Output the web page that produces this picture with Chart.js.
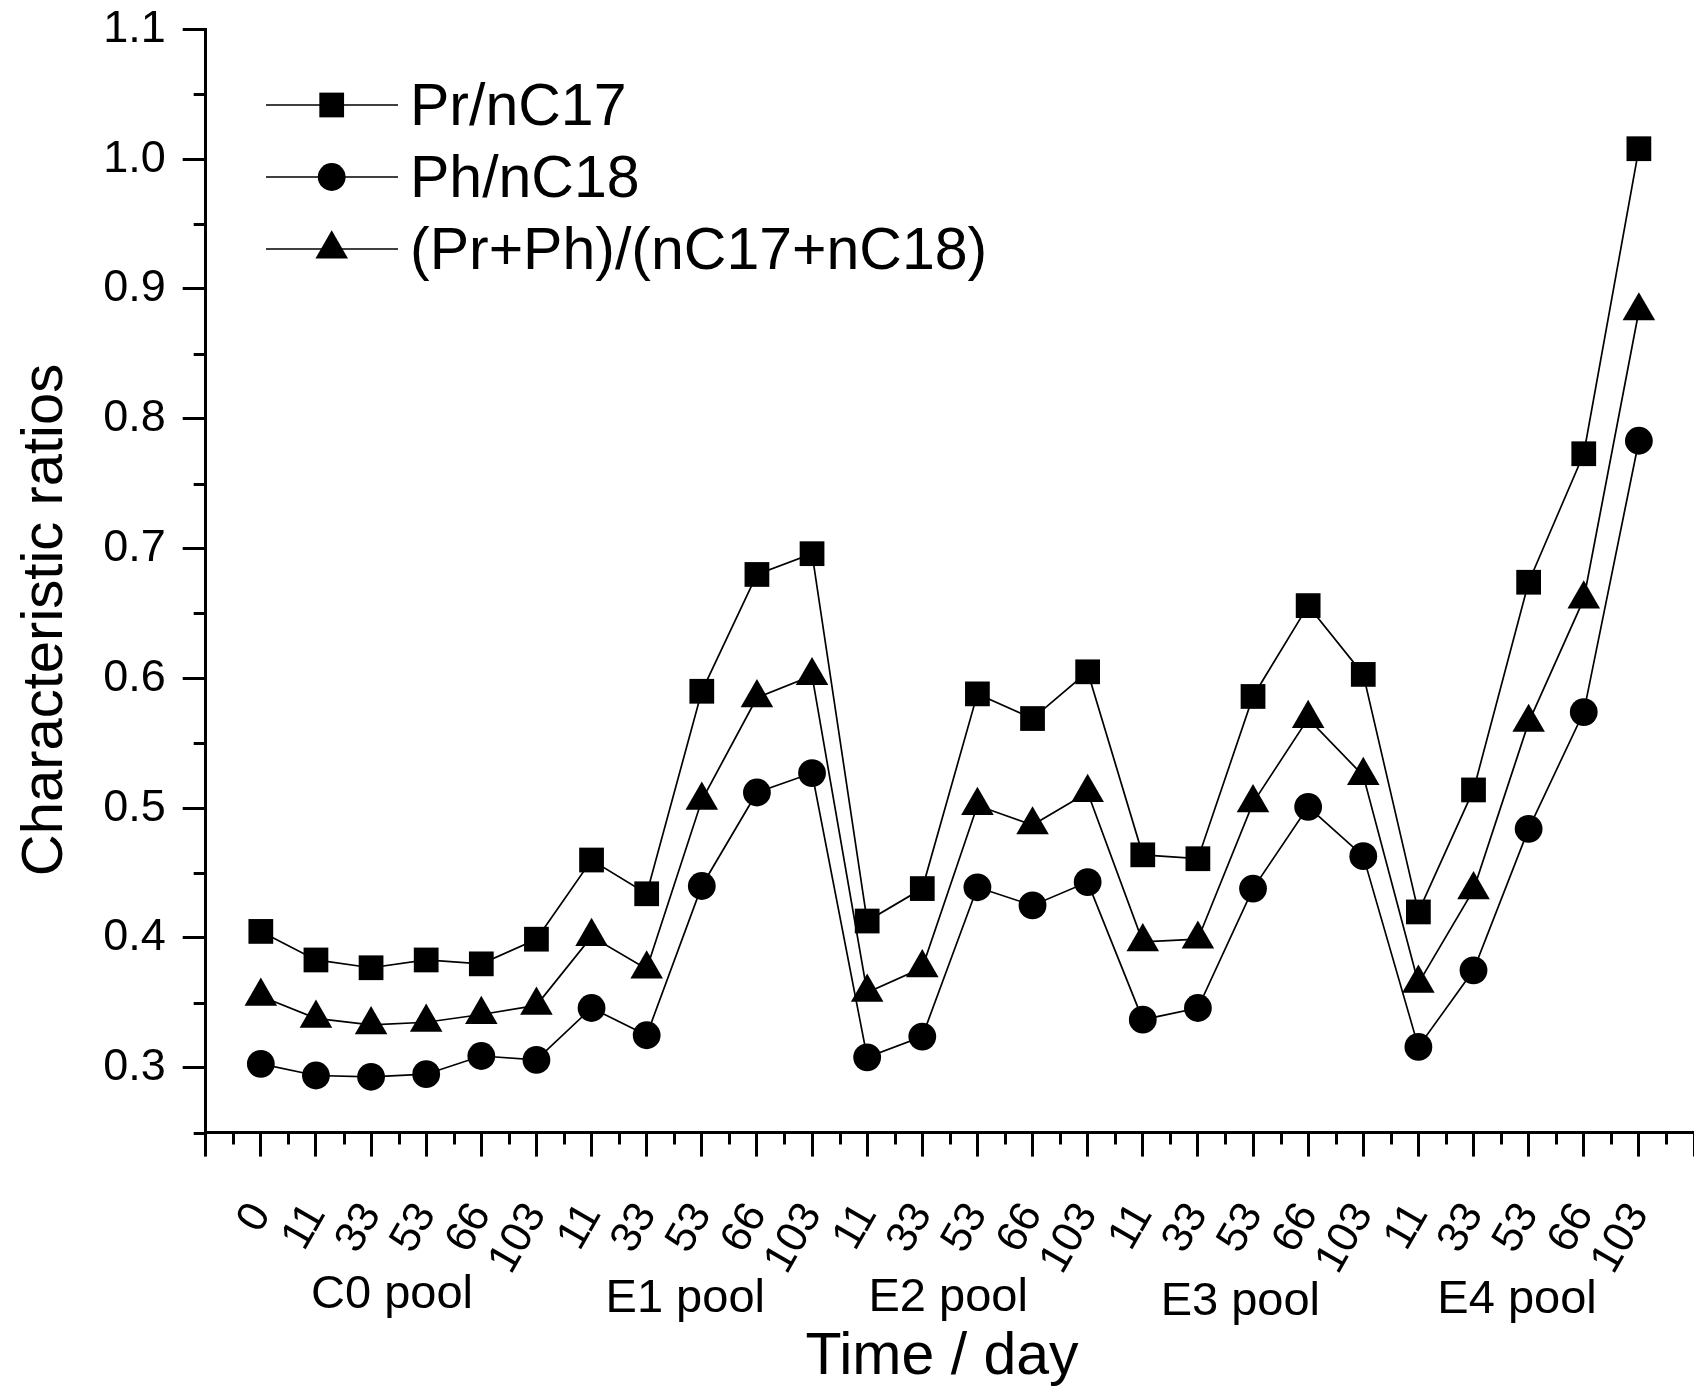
<!DOCTYPE html>
<html>
<head>
<meta charset="utf-8">
<title>Characteristic ratios</title>
<script src="https://cdn.jsdelivr.net/npm/chart.js@4.4.1/dist/chart.umd.min.js"></script>
<style>
  html, body { margin: 0; padding: 0; background: #fff; }
  canvas { display: block; }
</style>
</head>
<body>
<canvas id="grafico" width="1694" height="1388"></canvas>
<script>
const FONTE = '"Liberation Sans", Arial, Helvetica, sans-serif';

// sampling days, pool by pool
const dias = ['0', '11', '33', '53', '66', '103',
              '11', '33', '53', '66', '103',
              '11', '33', '53', '66', '103',
              '11', '33', '53', '66', '103',
              '11', '33', '53', '66', '103'];
const grupos = ['C0 pool', 'E1 pool', 'E2 pool', 'E3 pool', 'E4 pool'];
const yTicks = [0.3, 0.4, 0.5, 0.6, 0.7, 0.8, 0.9, 1.0, 1.1];

const prNC17 = [0.405, 0.383, 0.377, 0.383, 0.380, 0.399,
                0.460, 0.434, 0.590, 0.680, 0.696,
                0.413, 0.438, 0.588, 0.569, 0.605,
                0.464, 0.461, 0.586, 0.656, 0.603,
                0.420, 0.514, 0.674, 0.773, 1.008];
const phNC18 = [0.303, 0.294, 0.293, 0.295, 0.309, 0.306,
                0.346, 0.325, 0.440, 0.512, 0.527,
                0.308, 0.324, 0.439, 0.425, 0.443,
                0.337, 0.346, 0.438, 0.501, 0.463,
                0.316, 0.375, 0.484, 0.574, 0.783];
const prPhSoma = [0.355, 0.338, 0.333, 0.335, 0.341, 0.348,
                  0.401, 0.376, 0.506, 0.585, 0.602,
                  0.358, 0.377, 0.502, 0.487, 0.512,
                  0.397, 0.399, 0.504, 0.569, 0.525,
                  0.365, 0.437, 0.566, 0.661, 0.883];

// where the pool names sit, in x-axis units
const posGrupos = [2.38, 7.70, 12.47, 17.77, 22.79];

function pontos(valores) {
    return valores.map((v, i) => ({ x: i, y: v }));
}

function desenharMarcador(ctx, estilo, r, x, y) {
    ctx.beginPath();
    if (estilo === 'rect') {
        const s = r * Math.SQRT1_2;
        ctx.rect(x - s, y - s, 2 * s, 2 * s);
    } else if (estilo === 'circle') {
        ctx.arc(x, y, r, 0, Math.PI * 2);
    } else {
        for (let k = 0; k < 3; k++) {
            const a = k * 2 * Math.PI / 3;
            ctx.lineTo(x + Math.sin(a) * r, y - Math.cos(a) * r);
        }
        ctx.closePath();
    }
    ctx.fill();
}

// no extra room for the labels at the ends, the plot box is fixed
function semMargem(s) {
    s.paddingLeft = 0;
    s.paddingRight = 0;
    s.paddingTop = 0;
    s.paddingBottom = 0;
}

// half-step ticks on both axes
const ticksMenores = {
    id: 'ticksMenores',
    afterDraw(chart) {
        const { ctx, scales: { x, y } } = chart;
        ctx.save();
        ctx.strokeStyle = '#000';
        ctx.lineWidth = 3;
        ctx.beginPath();
        for (let v = -0.5; v < 26; v += 1) {
            const px = Math.round(x.getPixelForValue(v)) + 0.5;
            ctx.moveTo(px, x.top);
            ctx.lineTo(px, x.top + 12);
        }
        for (let k = 0; k < yTicks.length; k++) {
            const py = Math.round(y.getPixelForValue(yTicks[k] - 0.05)) + 0.5;
            ctx.moveTo(y.right - 12, py);
            ctx.lineTo(y.right, py);
        }
        ctx.stroke();
        ctx.restore();
    }
};

// axis titles, pool names and the legend box
const textos = {
    id: 'textos',
    afterDraw(chart) {
        const { ctx, scales: { x } } = chart;
        ctx.save();
        ctx.fillStyle = '#000';

        ctx.font = '59px ' + FONTE;
        ctx.textAlign = 'center';
        ctx.textBaseline = 'alphabetic';
        ctx.fillText('Time / day', 942, 1374);

        ctx.save();
        ctx.translate(62, 620);
        ctx.rotate(-Math.PI / 2);
        ctx.font = '58px ' + FONTE;
        ctx.fillText('Characteristic ratios', 0, 0);
        ctx.restore();

        ctx.font = '47px ' + FONTE;
        const bases = [1308, 1312, 1311, 1315, 1313];
        grupos.forEach((g, i) => {
            ctx.fillText(g, x.getPixelForValue(posGrupos[i]), bases[i]);
        });

        ctx.textAlign = 'left';
        ctx.font = '59px ' + FONTE;
        chart.data.datasets.forEach((ds, i) => {
            const yy = 105 + i * 72;
            ctx.strokeStyle = '#000';
            ctx.lineWidth = ds.borderWidth;
            ctx.beginPath();
            ctx.moveTo(266, yy);
            ctx.lineTo(398, yy);
            ctx.stroke();
            desenharMarcador(ctx, ds.pointStyle, ds.pointRadius, 331.7, yy);
            ctx.fillText(ds.label, 410, yy + 20);
        });
        ctx.restore();
    }
};

document.addEventListener("DOMContentLoaded", function () {
    const ctx = document.getElementById('grafico').getContext('2d');
    const linha = {
        borderColor: '#000',
        backgroundColor: '#000',
        pointBackgroundColor: '#000',
        pointBorderWidth: 0,
        borderWidth: 1.7,
        tension: 0,
        fill: false,
        clip: false
    };

    new Chart(ctx, {
        type: 'line',
        data: {
            datasets: [
                Object.assign({ label: 'Pr/nC17', data: pontos(prNC17), pointStyle: 'rect', pointRadius: 17.5 }, linha),
                Object.assign({ label: 'Ph/nC18', data: pontos(phNC18), pointStyle: 'circle', pointRadius: 13.9 }, linha),
                Object.assign({ label: '(Pr+Ph)/(nC17+nC18)', data: pontos(prPhSoma), pointStyle: 'triangle', pointRadius: 18.8 }, linha)
            ]
        },
        options: {
            responsive: false,
            animation: false,
            devicePixelRatio: 1,
            layout: { autoPadding: false, padding: { top: 29.3, right: 0, left: 0, bottom: 0 } },
            plugins: {
                legend: { display: false },
                tooltip: { enabled: false }
            },
            scales: {
                x: {
                    type: 'linear',
                    position: 'bottom',
                    min: -1,
                    max: 26,
                    afterFit: s => { s.height = 1388 - 1132.6; semMargem(s); },
                    border: { display: true, color: '#000', width: 3 },
                    grid: { display: true, drawOnChartArea: false, drawTicks: true, tickLength: 24, tickWidth: 3, tickColor: '#000' },
                    ticks: {
                        stepSize: 1,
                        autoSkip: false,
                        minRotation: 60,
                        maxRotation: 60,
                        padding: 38,
                        color: '#000',
                        font: { family: FONTE, size: 43 },
                        callback: v => (dias[v] !== undefined ? dias[v] : '')
                    }
                },
                y: {
                    type: 'linear',
                    min: 0.25,
                    max: 1.1,
                    afterFit: s => { s.width = 205.7; semMargem(s); },
                    afterBuildTicks: s => { s.ticks = yTicks.map(v => ({ value: v })); },
                    border: { display: true, color: '#000', width: 3 },
                    grid: { display: true, drawOnChartArea: false, drawTicks: true, tickLength: 23, tickWidth: 3, tickColor: '#000' },
                    ticks: {
                        padding: 17,
                        color: '#000',
                        font: { family: FONTE, size: 45 },
                        callback: v => v.toFixed(1)
                    }
                }
            }
        },
        plugins: [ticksMenores, textos]
    });
});
</script>
</body>
</html>
